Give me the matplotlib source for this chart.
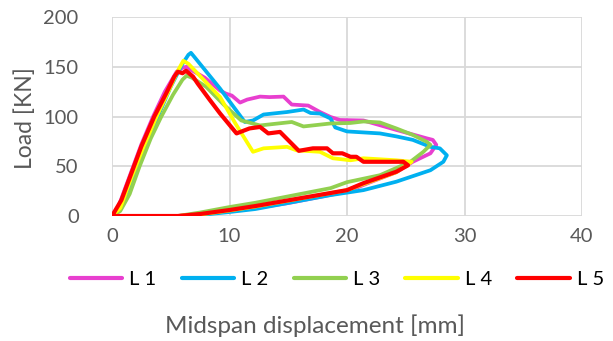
import matplotlib
matplotlib.use("Agg")
import matplotlib.pyplot as plt

# Load-displacement curves (loading, softening, unloading back to zero)
l1_x = [0, 0.5, 1.5, 2.5, 3.5, 4.5, 5.5, 6.0, 6.35, 6.7, 7.9, 9.2, 9.7, 10.2, 10.9, 11.5, 12.6,
        13.4, 14.6, 15.3, 16.7, 17.7, 18.6, 19.4, 21.4, 24.2, 26.8, 27.3, 27.6, 27.1, 25.6,
        24.2, 22.0, 20.0, 15.0, 12.2, 10.0, 7.5, 5.6, 0]
l1_y = [0, 8, 40, 72, 100, 125, 145, 149, 150, 147, 139, 126, 123, 121, 114, 117, 120,
        119.5, 120, 112, 111, 104.5, 99.5, 96.5, 96, 86.5, 78, 76.5, 71.5, 63, 54.5,
        44, 34, 24.5, 13, 8, 5, 1.5, 0, 0]

l2_x = [0, 0.5, 1.5, 2.5, 3.9, 5.0, 6.0, 6.5, 6.72, 7.0, 9.2, 11.3, 12.0, 12.9, 14.9, 16.3,
        16.9, 17.7, 18.6, 19.0, 20.0, 22.8, 24.2, 25.6, 27.1, 27.9, 28.5, 28.2, 27.1, 24.2,
        21.4, 18.6, 12.2, 10.0, 7.5, 5.8, 0]
l2_y = [0, 5, 30, 60, 100, 130, 153, 162, 164, 160, 128, 94.5, 96, 102, 104.5, 107,
        103.5, 103, 98, 89, 85, 83, 80, 76.5, 69.5, 68, 61, 54.5, 46, 34.5,
        26, 21, 7, 4, 1, 0, 0]

l3_x = [0, 0.7, 1.5, 2.35, 3.3, 4.2, 5.2, 6.0, 6.35, 6.8, 8.0, 9.5, 11.0, 12.6, 15.3, 16.3,
        18.6, 20.3, 21.4, 22.8, 24.2, 25.6, 26.8, 27.1, 26.5, 25.4, 22.8, 20.0, 18.6, 12.2,
        10.0, 7.5, 5.6, 0]
l3_y = [0, 5, 22, 50, 78, 100, 122, 137, 141, 139, 130, 112, 96, 91, 94.5, 90,
        93, 93.5, 95, 94, 88, 81.5, 74.5, 71.5, 64.5, 54.5, 41, 34, 28, 13.3,
        9, 3.5, 0, 0]

l4_x = [0, 0.7, 1.7, 2.7, 3.8, 4.8, 5.6, 6.07, 6.5, 9.2, 10.5, 12.0, 12.9, 14.9, 15.7, 17.7,
        18.8, 20.3, 21.4, 24.2, 25.5, 24.2, 20.0, 12.2, 10.0, 7.5, 5.6, 0]
l4_y = [0, 8, 40, 70, 100, 125, 146, 156, 153, 119.5, 93, 64.5, 68, 69.5, 66, 64.5,
        58, 56, 58, 56, 54.5, 44, 26, 9.5, 5.5, 1.5, 0, 0]

l5_x = [0, 0.8, 1.65, 2.5, 3.6, 4.6, 5.3, 5.6, 6.0, 6.3, 6.9, 7.3, 8.3, 9.2, 10.6, 11.7,
        12.6, 13.3, 14.3, 15.9, 17.1, 18.3, 18.8, 19.6, 20.3, 20.8, 21.4, 22.8, 24.8, 25.2,
        24.2, 21.4, 20.0, 12.2, 10.0, 7.5, 5.6, 0]
l5_y = [0, 16, 43, 70, 100, 123, 140, 145, 143.5, 146, 140, 133, 117, 103, 83, 88,
        89.5, 83, 84.5, 65.5, 68, 68, 63, 63, 59.5, 59.5, 54.5, 54.5, 54.5, 51,
        44.5, 33, 26, 10, 6, 2, 0, 0]

series_names = ["L 1", "L 2", "L 3", "L 4", "L 5"]
series_x = [l1_x, l2_x, l3_x, l4_x, l5_x]
series_y = [l1_y, l2_y, l3_y, l4_y, l5_y]
colors = ["#E83FCF", "#00B0F0", "#92D050", "#FFFF00", "#FF0000"]
widths = [2.7, 2.7, 2.7, 2.7, 3.0]

x_ticks = [0, 10, 20, 30, 40]
y_ticks = [0, 50, 100, 150, 200]

plt.rcParams["font.family"] = ["Lato", "DejaVu Sans"]

W, H = 613, 341
fig = plt.figure(figsize=(W / 100, H / 100), dpi=100)
ax = fig.add_axes([112 / W, 1 - 216 / H, 470 / W, 199 / H])

for name, xs, ys, c, w in zip(series_names, series_x, series_y, colors, widths):
    ax.plot(xs, ys, color=c, lw=w, label=name, solid_joinstyle="round",
            solid_capstyle="round")

ax.set_xlim(0, 40)
ax.set_ylim(0, 200)
ax.set_xticks(x_ticks)
ax.set_yticks(y_ticks)
ax.grid(True, color="#D9D9D9", lw=1.3)
ax.set_axisbelow(True)
for s in ax.spines.values():
    s.set_visible(False)
ax.tick_params(length=0, labelsize=14.5, colors="#595959")
ax.tick_params(axis="x", pad=9)
ax.tick_params(axis="y", pad=24)

fig.text(25 / W, 1 - 118 / H, "Load [KN]", rotation=90, ha="center", va="center",
         fontsize=16.5, color="#595959")
fig.text(315 / W, 1 - 326 / H, "Midspan displacement [mm]", ha="center", va="center",
         fontsize=17.5, color="#595959")

leg = fig.legend(loc="center", bbox_to_anchor=(337 / W, 1 - 279 / H), ncol=5,
                 frameon=False, fontsize=14.5, handlelength=2.6, handletextpad=0.35,
                 columnspacing=1.25, borderaxespad=0)
for line in leg.get_lines():
    line.set_linewidth(3)
    line.set_solid_capstyle("round")

fig.savefig("out.png", dpi=100)
